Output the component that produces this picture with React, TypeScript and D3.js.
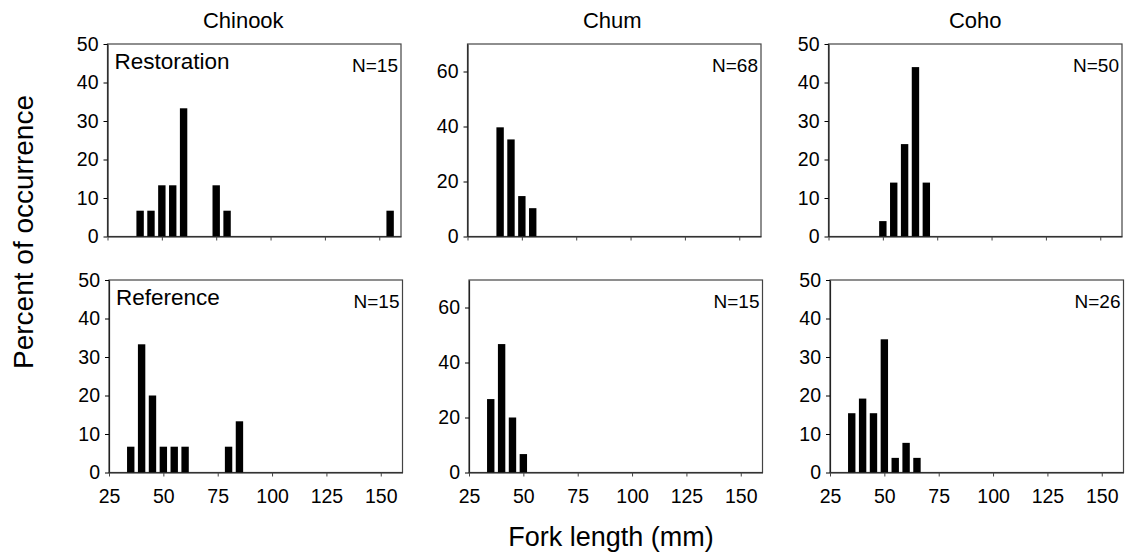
import React, { useRef, useEffect } from 'react'
import * as d3 from 'd3'

const species = ['Chinook', 'Chum', 'Coho']
const sites = ['Restoration', 'Reference']
const sampleSizes = [[15, 68, 50], [15, 15, 26]]
const yMaxes = [50, 70, 50]
const yTicks = [[0, 10, 20, 30, 40, 50], [0, 20, 40, 60], [0, 10, 20, 30, 40, 50]]
const xTicks = [25, 50, 75, 100, 125, 150]

// fork length bin (mm) and percent of occurrence
const restChinookLen = [40, 45, 50, 55, 60, 75, 80, 155]
const restChinookPct = [6.7, 6.7, 13.3, 13.3, 33.3, 13.3, 6.7, 6.7]
const restChumLen = [40, 45, 50, 55]
const restChumPct = [39.7, 35.3, 14.7, 10.3]
const restCohoLen = [50, 55, 60, 65, 70]
const restCohoPct = [4, 14, 24, 44, 14]
const refChinookLen = [35, 40, 45, 50, 55, 60, 80, 85]
const refChinookPct = [6.7, 33.3, 20, 6.7, 6.7, 6.7, 6.7, 13.3]
const refChumLen = [35, 40, 45, 50]
const refChumPct = [26.7, 46.7, 20, 6.7]
const refCohoLen = [35, 40, 45, 50, 55, 60, 65]
const refCohoPct = [15.4, 19.2, 15.4, 34.6, 3.8, 7.7, 3.8]

const panels = [
  [[restChinookLen, restChinookPct], [restChumLen, restChumPct], [restCohoLen, restCohoPct]],
  [[refChinookLen, refChinookPct], [refChumLen, refChumPct], [refCohoLen, refCohoPct]],
]

const App = () => {
  const svgRef = useRef<SVGSVGElement>(null)

  useEffect(() => {
    const svg = d3.select(svgRef.current)
    svg.selectAll('*').remove()
    const font = 'Liberation Sans, Arial, sans-serif'

    const colLeft = [107.5, 467.5, 828.5]
    const rowTop = [44, 280]
    const rowLeftShift = [0, 1.5]
    const titleShift = [-11, -2, 0]
    const pw = 293.5
    const ph = 192.5

    panels.forEach((row, r) => {
      row.forEach(([lens, pcts], c) => {
        const left = colLeft[c] + rowLeftShift[r]
        const top = rowTop[r]
        const x = d3.scaleLinear().domain([25, 160]).range([left, left + pw])
        const y = d3.scaleLinear().domain([0, yMaxes[c]]).range([top + ph, top])
        const g = svg.append('g')

        g.append('rect')
          .attr('x', left).attr('y', top)
          .attr('width', pw).attr('height', ph)
          .attr('fill', 'none').attr('stroke', '#444').attr('stroke-width', 1.2)

        const barW = (x(30) - x(25)) * 0.68
        g.selectAll('rect.bar')
          .data(lens.map((l, i) => ({ l, p: pcts[i] })))
          .join('rect')
          .attr('class', 'bar')
          .attr('x', (d) => x(d.l) - barW / 2)
          .attr('y', (d) => y(d.p))
          .attr('width', barW)
          .attr('height', (d) => y(0) - y(d.p))
          .attr('fill', '#000')

        const yAxis = g.append('g')
          .attr('transform', `translate(${left},0)`)
          .call(d3.axisLeft(y).tickValues(yTicks[c]).tickSize(4).tickSizeOuter(0).tickPadding(5))
        yAxis.select('.domain').attr('stroke', '#222').attr('stroke-width', 1.2)
        yAxis.selectAll('text').attr('font-family', font).attr('font-size', 19.5).attr('fill', '#000')

        const xAxis = g.append('g')
          .attr('transform', `translate(0,${top + ph})`)
          .call(d3.axisBottom(x).tickValues(xTicks).tickSize(4).tickSizeOuter(0).tickPadding(13)
            .tickFormat((d) => (r === 1 ? String(d) : '')))
        xAxis.select('.domain').attr('stroke', '#222').attr('stroke-width', 1.2)
        xAxis.selectAll('line').attr('stroke', '#444')
        xAxis.selectAll('text').attr('font-family', font).attr('font-size', 19.5).attr('fill', '#000')

        g.append('text')
          .attr('x', left + pw - 3).attr('y', top + 27.5)
          .attr('text-anchor', 'end')
          .attr('font-family', font).attr('font-size', 19)
          .text(`N=${sampleSizes[r][c]}`)

        if (c === 0) {
          g.append('text')
            .attr('x', left + 7).attr('y', top + 25)
            .attr('font-family', font).attr('font-size', 22.5)
            .text(sites[r])
        }
        if (r === 0) {
          g.append('text')
            .attr('x', left + pw / 2 + titleShift[c]).attr('y', 28)
            .attr('text-anchor', 'middle')
            .attr('font-family', font).attr('font-size', 22)
            .text(species[c])
        }
      })
    })

    svg.append('text')
      .attr('x', 611).attr('y', 546)
      .attr('text-anchor', 'middle')
      .attr('font-family', font).attr('font-size', 27)
      .text('Fork length (mm)')

    svg.append('text')
      .attr('transform', 'translate(33,232) rotate(-90)')
      .attr('text-anchor', 'middle')
      .attr('font-family', font).attr('font-size', 28)
      .text('Percent of occurrence')
  }, [])

  return (
    <svg ref={svgRef} width={1126} height={556}
      style={{ position: 'absolute', left: 0, top: 0, background: '#fff' }} />
  )
}

export default App
